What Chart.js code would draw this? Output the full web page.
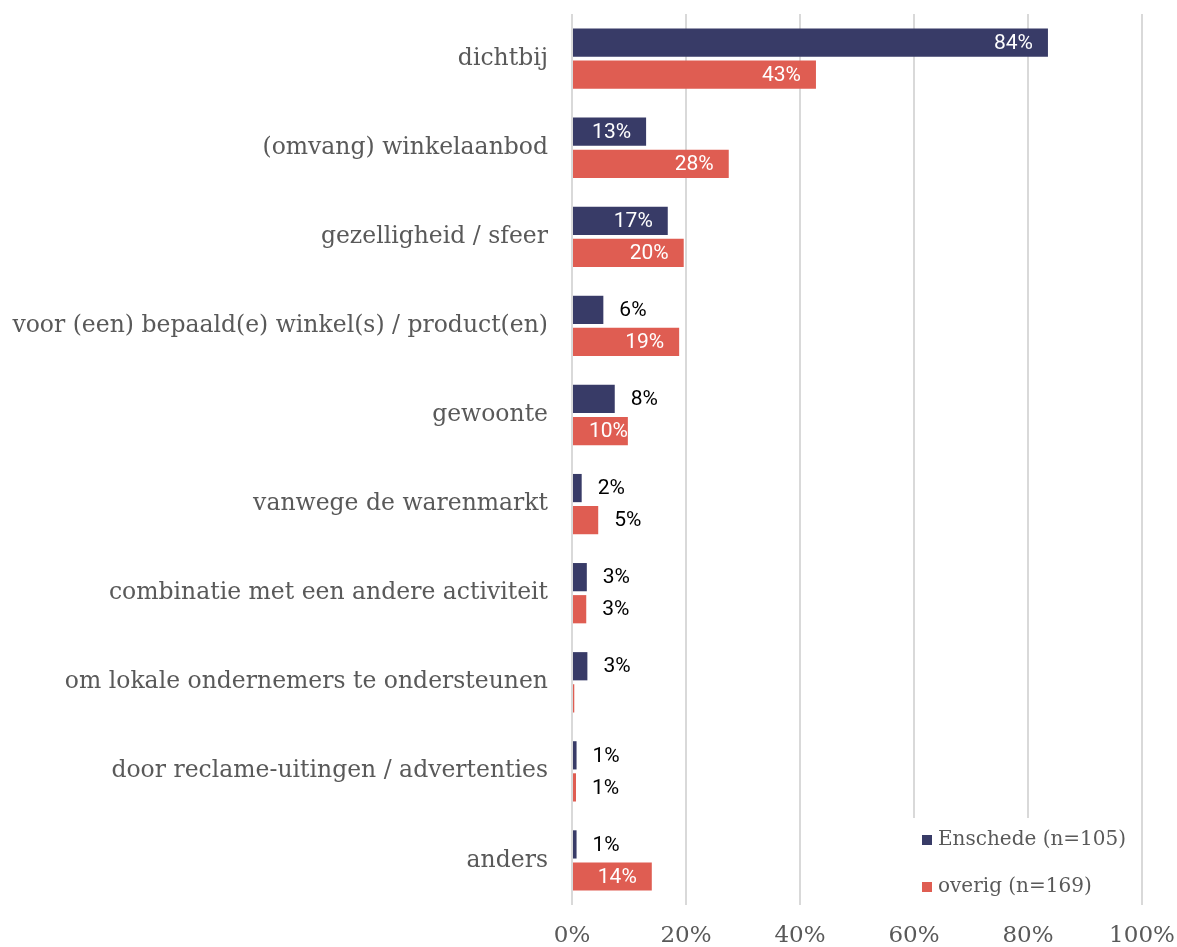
<!DOCTYPE html>
<html>
<head>
<meta charset="utf-8">
<script src="https://cdn.jsdelivr.net/npm/chart.js@4/dist/chart.umd.min.js"></script>
<style>
  html, body { margin: 0; padding: 0; background: #fff; }
  #wrap { width: 1177px; height: 947px; }
</style>
</head>
<body>
<div id="wrap"><canvas id="chart"></canvas></div>
<script>
var categories = [
  "dichtbij",
  "(omvang) winkelaanbod",
  "gezelligheid / sfeer",
  "voor (een) bepaald(e) winkel(s) / product(en)",
  "gewoonte",
  "vanwege de warenmarkt",
  "combinatie met een andere activiteit",
  "om lokale ondernemers te ondersteunen",
  "door reclame-uitingen / advertenties",
  "anders"
];
var enschede = [83.5, 13.0, 16.8, 5.5, 7.5, 1.7, 2.6, 2.7, 0.8, 0.8];
var overig = [42.8, 27.5, 19.6, 18.8, 9.8, 4.6, 2.5, 0.4, 0.7, 14.0];
var seriesNames = ["Enschede (n=105)", "overig (n=169)"];
var seriesColors = ["#383b67", "#df5d52"];

var serif = "'DejaVu Serif', serif";
var sans = "Roboto, sans-serif";

var valueLabels = {
  id: "valueLabels",
  afterDatasetsDraw: function (chart) {
    var ctx = chart.ctx;
    ctx.save();
    ctx.font = "21px " + sans;
    ctx.textBaseline = "middle";
    chart.data.datasets.forEach(function (ds, i) {
      var meta = chart.getDatasetMeta(i);
      meta.data.forEach(function (bar, j) {
        var r = Math.round(ds.data[j]);
        if (r === 0) return;
        var txt = r + "%";
        if (r >= 10) {
          var w = ctx.measureText(txt).width;
          ctx.fillStyle = "#ffffff";
          ctx.textAlign = "right";
          ctx.fillText(txt, Math.max(bar.x - 15, bar.base + 16 + w), bar.y + 1);
        } else {
          ctx.fillStyle = "#000000";
          ctx.textAlign = "left";
          ctx.fillText(txt, bar.x + 16, bar.y + 1);
        }
      });
    });
    ctx.restore();
  }
};

var boxLegend = {
  id: "boxLegend",
  afterDraw: function (chart) {
    var ctx = chart.ctx;
    ctx.save();
    ctx.fillStyle = "#ffffff";
    ctx.fillRect(905, 818, 230, 88);
    ctx.font = "20px " + serif;
    ctx.textBaseline = "middle";
    ctx.textAlign = "left";
    var ys = [840, 887];
    seriesNames.forEach(function (name, i) {
      ctx.fillStyle = seriesColors[i];
      ctx.fillRect(922, ys[i] - 5, 10, 10);
      ctx.fillStyle = "#595959";
      ctx.fillText(name, 938, ys[i]);
    });
    ctx.restore();
  }
};

new Chart(document.getElementById("chart"), {
  type: "bar",
  data: {
    labels: categories,
    datasets: [
      { label: seriesNames[0], data: enschede, backgroundColor: seriesColors[0],
        categoryPercentage: 0.72, barPercentage: 0.88 },
      { label: seriesNames[1], data: overig, backgroundColor: seriesColors[1],
        categoryPercentage: 0.72, barPercentage: 0.88 }
    ]
  },
  options: {
    indexAxis: "y",
    responsive: true,
    maintainAspectRatio: false,
    animation: false,
    layout: { padding: { top: 1, right: 35, left: 0, bottom: -1 } },
    scales: {
      x: {
        min: 0,
        max: 100,
        ticks: {
          stepSize: 20,
          padding: 0,
          color: "#595959",
          font: { family: serif, size: 23, lineHeight: 1 },
          callback: function (v) { return v + "%"; }
        },
        grid: { color: "#d9d9d9", lineWidth: 2, drawTicks: true, tickLength: 20,
                tickColor: "rgba(0,0,0,0)" },
        border: { display: false }
      },
      y: {
        ticks: {
          padding: 0,
          color: "#595959",
          font: { family: serif, size: 23.5 }
        },
        grid: { display: true, drawOnChartArea: false, drawTicks: true, tickLength: 24,
                color: "rgba(0,0,0,0)" },
        border: { display: false },
        afterFit: function (scale) { scale.width = 572; }
      }
    },
    plugins: {
      legend: { display: false },
      tooltip: { enabled: false }
    }
  },
  plugins: [valueLabels, boxLegend]
});
</script>
</body>
</html>
